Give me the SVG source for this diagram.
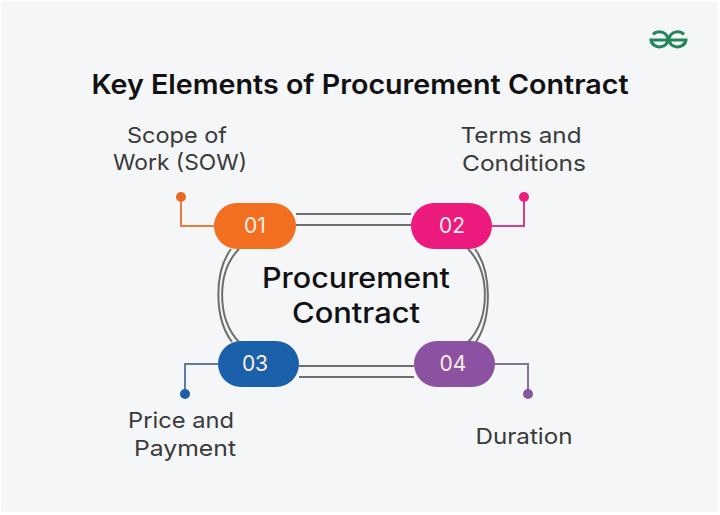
<svg xmlns="http://www.w3.org/2000/svg" width="720" height="515" viewBox="0 0 720 515">
<style>
text{font-family:"Inter","Liberation Sans",sans-serif;text-anchor:middle}
.lbl{font-size:22px;fill:#3a3a3a}
.num{font-size:21px;fill:#fbeee6}
.dbl{fill:none;stroke:#6e6e6e;stroke-width:2}
.pill{stroke:none}
</style>
<rect width="720" height="515" fill="#ffffff"/>
<rect x="1" y="1" width="717" height="511" rx="2" fill="#f5f6f8"/>
<g id="logo" fill="none" stroke="#23855a" stroke-width="3">
<path d="M668.500 40H651A8.500 7.500 0 1 0 653 34.500"/>
<path d="M668.500 40H686A8.500 7.500 0 1 1 684 34.500"/>
</g>
<text id="title" x="360" y="94" font-size="27" font-weight="600" fill="#111" textLength="537" lengthAdjust="spacingAndGlyphs">Key Elements of Procurement Contract</text>
<g id="connectors">
<path class="dbl" d="M296 214H411M296 225H411M299 366H414M299 377H414"/>
<path class="dbl" d="M231 249C214 272 214 318 232 342M239 249C216.500 272 216.500 318 239 342"/>
<path class="dbl" d="M475 249C492 272 492 318 476 342M468 249C490.500 272 490.500 318 468 342"/>
<path fill="none" stroke="#ee7a3c" stroke-width="2" d="M181 197V226H214"/>
<path fill="none" stroke="#d9408a" stroke-width="2" d="M524 197V226H492"/>
<path fill="none" stroke="#5f7d9f" stroke-width="2" d="M185 394V364H218"/>
<path fill="none" stroke="#86709a" stroke-width="2" d="M528 394V364H495"/>
<circle cx="181" cy="197" r="5" fill="#ea6a24"/>
<circle cx="524" cy="197" r="5" fill="#e91e7d"/>
<circle cx="185" cy="394" r="5" fill="#1c5fa8"/>
<circle cx="528" cy="394" r="5" fill="#8a559f"/>
</g>
<g id="node-01"><rect class="pill" x="214" y="203" width="82" height="46" rx="23" fill="#f26f21"/><text class="num" x="255" y="233">01</text></g>
<g id="node-02"><rect class="pill" x="411" y="203" width="81" height="46" rx="23" fill="#ec1a7c"/><text class="num" x="452" y="233">02</text></g>
<g id="node-03"><rect class="pill" x="218" y="341" width="81" height="46" rx="23" fill="#1b60aa"/><text class="num" x="255" y="371">03</text></g>
<g id="node-04"><rect class="pill" x="414" y="341" width="81" height="46" rx="23" fill="#8c52a1"/><text class="num" x="453" y="371">04</text></g>
<g id="center">
<text x="356" y="288" font-size="28" font-weight="500" fill="#111" textLength="188" lengthAdjust="spacingAndGlyphs">Procurement</text>
<text x="356" y="323" font-size="28" font-weight="500" fill="#111" textLength="128" lengthAdjust="spacingAndGlyphs">Contract</text>
</g>
<g id="label-01"><text class="lbl" x="177" y="143" textLength="100" lengthAdjust="spacingAndGlyphs">Scope of</text><text class="lbl" x="180" y="170" textLength="134" lengthAdjust="spacingAndGlyphs">Work (SOW)</text></g>
<g id="label-02"><text class="lbl" x="521" y="143" textLength="121" lengthAdjust="spacingAndGlyphs">Terms and</text><text class="lbl" x="524" y="171" textLength="124" lengthAdjust="spacingAndGlyphs">Conditions</text></g>
<g id="label-03"><text class="lbl" x="181" y="428" textLength="106" lengthAdjust="spacingAndGlyphs">Price and</text><text class="lbl" x="185" y="456" textLength="102" lengthAdjust="spacingAndGlyphs">Payment</text></g>
<g id="label-04"><text class="lbl" x="524" y="444" textLength="97" lengthAdjust="spacingAndGlyphs">Duration</text></g>
</svg>
